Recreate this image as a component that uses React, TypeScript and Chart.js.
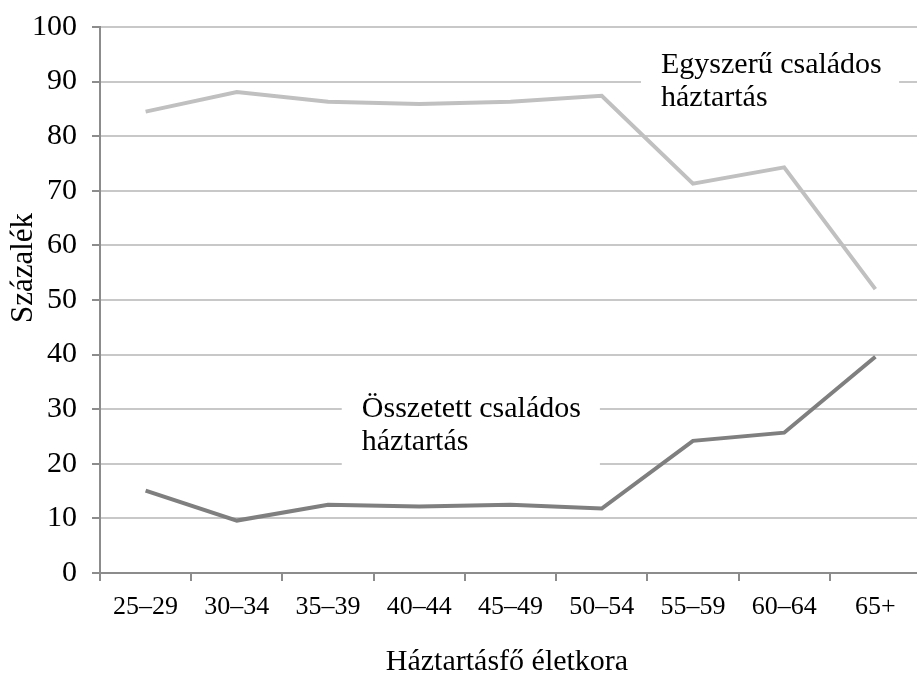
import React, { useEffect, useRef } from "react";
import { Chart, registerables } from "chart.js";

Chart.register(...registerables);

const categories = ["25–29", "30–34", "35–39", "40–44", "45–49", "50–54", "55–59", "60–64", "65+"];
const egyszeruValues = [84.5, 88.1, 86.3, 85.9, 86.3, 87.4, 71.3, 74.3, 52.0];
const osszetettValues = [15.1, 9.6, 12.5, 12.2, 12.5, 11.8, 24.2, 25.7, 39.6];
const yTicks = [0, 10, 20, 30, 40, 50, 60, 70, 80, 90, 100];

const FONT = "'Liberation Serif', 'Times New Roman', serif";

type Note = { lines: string[]; x: number; y: number; box: [number, number, number, number] };
// x in category-index units, y in data units; box = [x0, x1, yTop, yBottom]
const notes: Note[] = [
  { lines: ["Egyszerű családos", "háztartás"], x: 5.65, y: 91.6, box: [5.43, 8.26, 96.0, 83.5] },
  { lines: ["Összetett családos", "háztartás"], x: 2.37, y: 28.6, box: [2.15, 4.98, 34.0, 16.5] },
];

const annotationPlugin = {
  id: "notes",
  beforeDatasetsDraw(chart: any) {
    const { ctx, scales } = chart;
    const xs = scales.x;
    const ys = scales.y;
    ctx.save();
    notes.forEach((n) => {
      const x0 = xs.getPixelForValue(n.box[0]);
      const x1 = xs.getPixelForValue(n.box[1]);
      const y0 = ys.getPixelForValue(n.box[2]);
      const y1 = ys.getPixelForValue(n.box[3]);
      ctx.fillStyle = "#ffffff";
      ctx.fillRect(x0, y0, x1 - x0, y1 - y0);
      ctx.fillStyle = "#000000";
      ctx.font = `30px ${FONT}`;
      ctx.textAlign = "left";
      ctx.textBaseline = "alphabetic";
      const tx = xs.getPixelForValue(n.x);
      const ty = ys.getPixelForValue(n.y);
      n.lines.forEach((l, i) => ctx.fillText(l, tx, ty + i * 33));
    });
    ctx.restore();
  },
  afterDraw(chart: any) {
    const { ctx } = chart;
    ctx.save();
    ctx.fillStyle = "#000000";
    // y-axis title
    ctx.save();
    ctx.font = `31px ${FONT}`;
    ctx.translate(24, 268);
    ctx.rotate(-Math.PI / 2);
    ctx.textAlign = "center";
    ctx.textBaseline = "middle";
    ctx.fillText("Százalék", 0, 0);
    ctx.restore();
    // x-axis title
    ctx.font = `30px ${FONT}`;
    ctx.textAlign = "center";
    ctx.textBaseline = "alphabetic";
    ctx.fillText("Háztartásfő életkora", 507, 670);
    ctx.restore();
  },
};

export default function App() {
  const ref = useRef<HTMLCanvasElement | null>(null);
  useEffect(() => {
    if (!ref.current) return;
    const chart = new Chart(ref.current, {
      type: "line",
      data: {
        labels: categories,
        datasets: [
          {
            label: "Egyszerű családos háztartás",
            data: egyszeruValues,
            borderColor: "#c0c0c0",
            borderWidth: 4,
            pointRadius: 0,
            tension: 0,
          },
          {
            label: "Összetett családos háztartás",
            data: osszetettValues,
            borderColor: "#7f7f7f",
            borderWidth: 4,
            pointRadius: 0,
            tension: 0,
          },
        ],
      },
      options: {
        responsive: false,
        animation: false,
        layout: { padding: { top: 27, left: 0, right: 0, bottom: 0 } },
        plugins: { legend: { display: false }, tooltip: { enabled: false } },
        scales: {
          x: {
            type: "category",
            offset: true,
            grid: {
              offset: true,
              drawOnChartArea: false,
              drawTicks: true,
              tickLength: 8,
              tickColor: "#8c8c8c",
              lineWidth: 2,
            },
            border: { color: "#8c8c8c", width: 2 },
            ticks: {
              color: "#000000",
              font: { family: FONT, size: 26 },
              padding: 11,
              maxRotation: 0,
              autoSkip: false,
            },
            afterFit: (s: any) => {
              s.height = 102;
              s.paddingLeft = 0;
              s.paddingRight = 0;
            },
          },
          y: {
            min: 0,
            max: 100,
            afterBuildTicks: (s: any) => {
              s.ticks = yTicks.map((v) => ({ value: v }));
            },
            grid: {
              color: "#c8c8c8",
              lineWidth: 2,
              tickLength: 8,
              tickColor: "#8c8c8c",
            },
            border: { color: "#8c8c8c", width: 2 },
            ticks: {
              color: "#000000",
              font: { family: FONT, size: 30 },
              padding: 15,
            },
            afterFit: (s: any) => {
              s.width = 100;
              s.paddingTop = 0;
              s.paddingBottom = 0;
            },
          },
        },
      },
      plugins: [annotationPlugin],
    });
    return () => chart.destroy();
  }, []);
  return (
    <div style={{ position: "fixed", left: 0, top: 0, width: 917, height: 675, overflow: "hidden", background: "#fff" }}>
      <canvas ref={ref} width={921} height={675} style={{ display: "block" }} />
    </div>
  );
}
